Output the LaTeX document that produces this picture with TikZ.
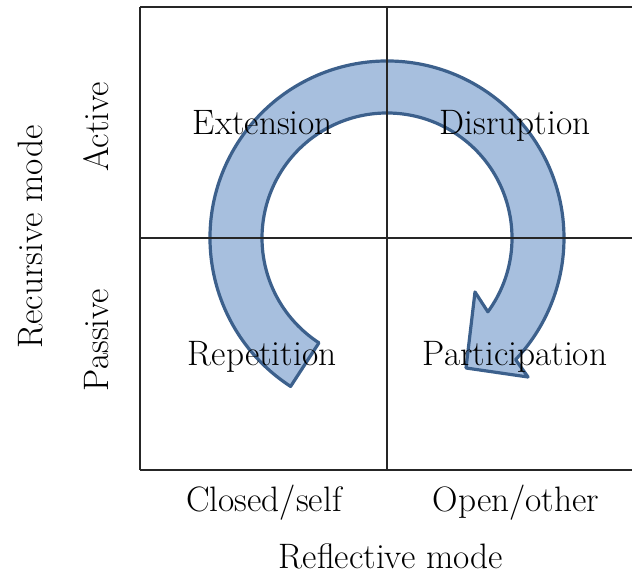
\documentclass[tikz,border=0pt]{standalone}
\usetikzlibrary{calc}
\definecolor{arrowfill}{RGB}{167,191,222}
\definecolor{arrowline}{RGB}{60,96,140}
\begin{document}
\begin{tikzpicture}[x=0.75pt,y=0.75pt,
  gridline/.style={line width=1.5pt,draw=black!85},
  cyclearrow/.style={fill=arrowfill,draw=arrowline,line width=2.4pt,line join=round},
  lbl/.style={font=\fontsize{26.5}{31}\selectfont,inner sep=0pt,anchor=base},
  vlbl/.style={lbl,rotate=90}]
\useasboundingbox (0,0) rectangle (632,574);
% grid corners
\coordinate (tl) at (140,567);
\coordinate (tm) at (387,567);
\coordinate (tr) at (632,567);
\coordinate (ml) at (140,336);
\coordinate (C)  at (387,336);
\coordinate (mr) at (632,336);
\coordinate (bl) at (140,104);
\coordinate (bm) at (387,104);
\coordinate (br) at (632,104);
% arrow head points
\coordinate (obarb) at (528,197);
\coordinate (tip)   at (466,206);
\coordinate (ibarb) at (475,282);
% circular arrow
\draw[cyclearrow] ($(C)+(237:177)$) arc[start angle=237, end angle=-43.4, radius=177]
  -- (obarb) -- (tip) -- (ibarb) -- ($(C)+(-36.2:125)$)
  arc[start angle=-36.2, end angle=237, radius=125] -- cycle;
% grid
\draw[gridline] (tl) -- (tr);
\draw[gridline] (ml) -- (mr);
\draw[gridline] (bl) -- (br);
\draw[gridline] (tl) -- (bl);
\draw[gridline] (tm) -- (bm);
% labels
\node[lbl] (ext) at (263,439) {Extension};
\node[lbl] (dis) at (515,439) {Disruption};
\node[lbl] (rep) at (262,208) {Repetition};
\node[lbl] (par) at (515,208) {Participation};
\node[lbl] (cls) at (264,62) {Closed/self};
\node[lbl] (opn) at (516,62) {Open/other};
\node[lbl] (rfl) at (391,5) {Reflective mode};
\node[vlbl] (act) at (108,447) {Active};
\node[vlbl] (pas) at (108,234) {Passive};
\node[vlbl] (rec) at (42,337) {Recursive mode};
\end{tikzpicture}
\end{document}
